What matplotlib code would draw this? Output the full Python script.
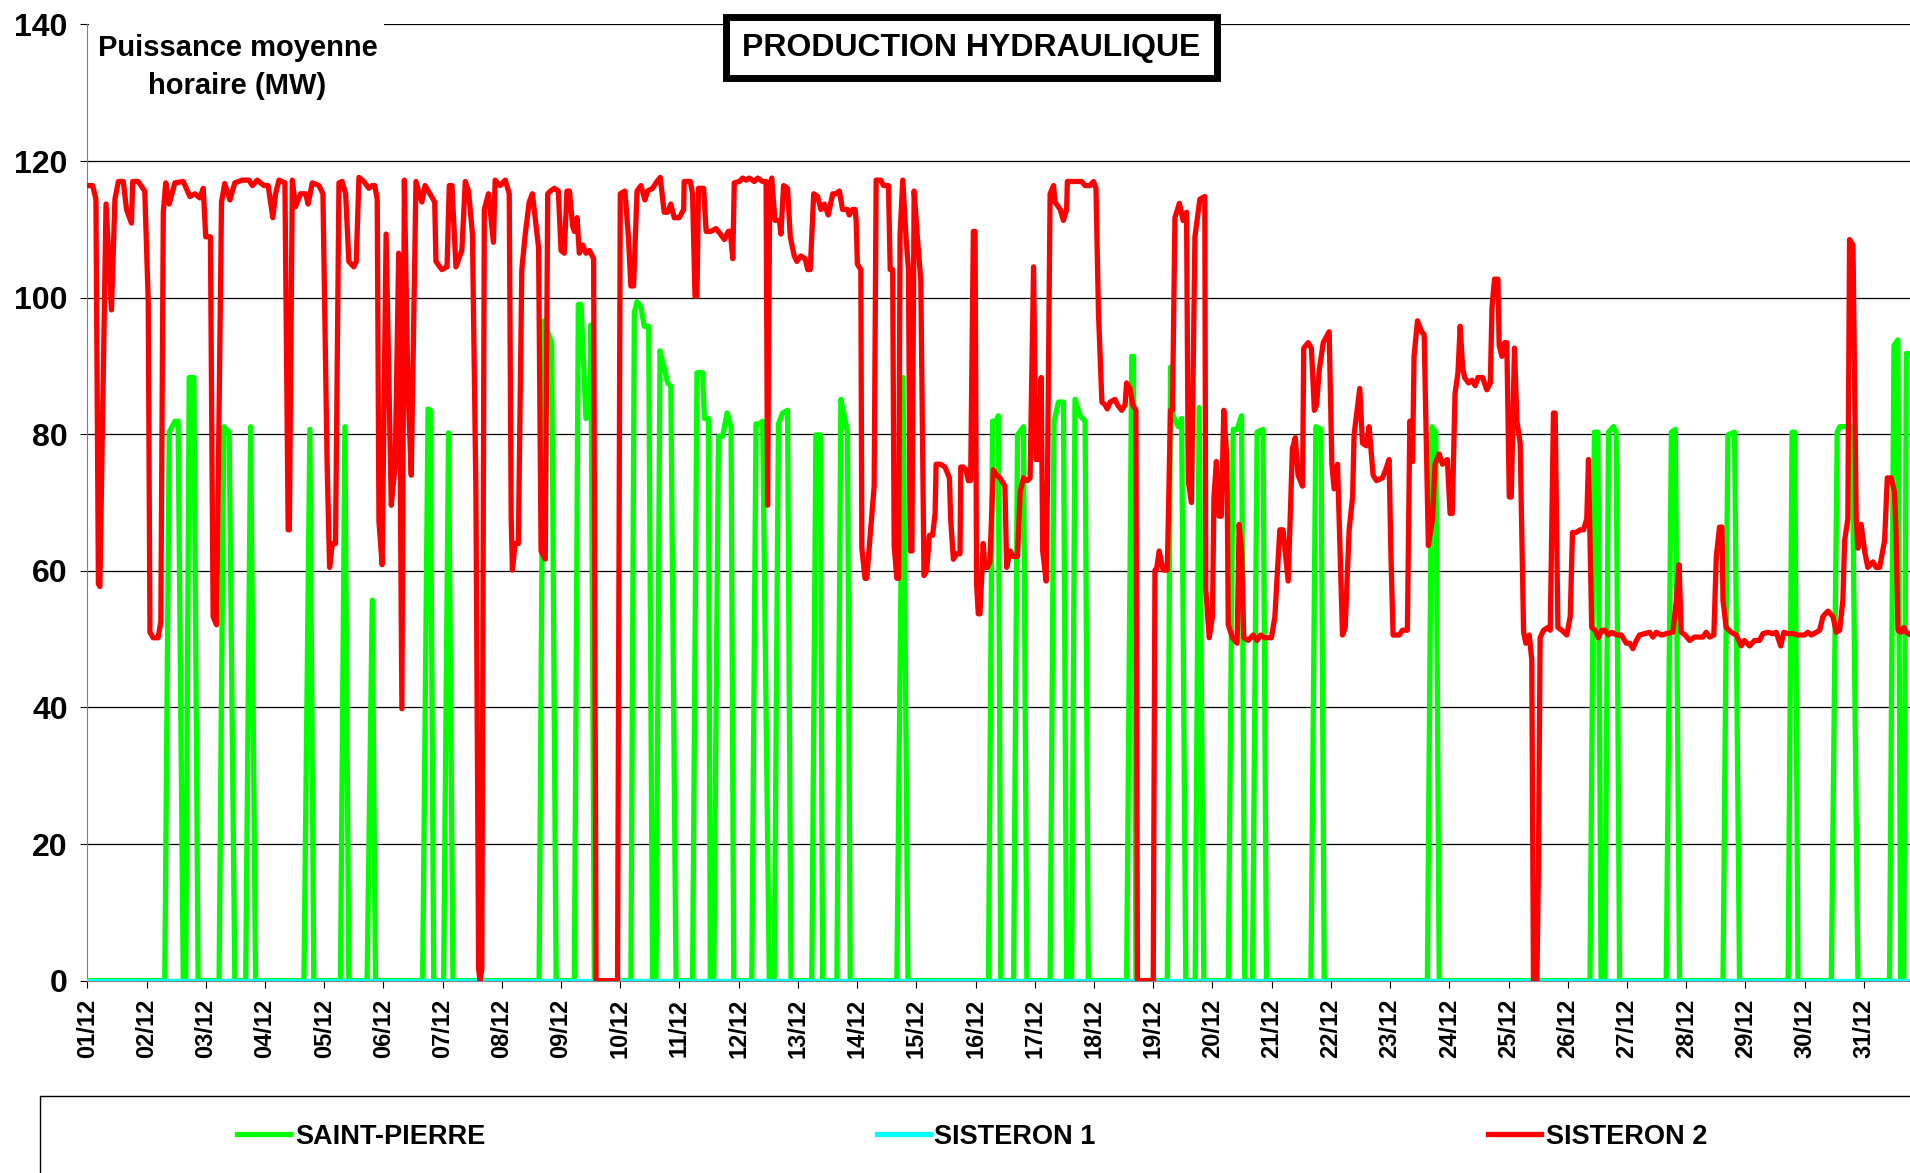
import numpy as np
import matplotlib.pyplot as plt
from matplotlib.lines import Line2D
from matplotlib.patches import Rectangle

plt.rcParams['font.family'] = ['Liberation Sans', 'DejaVu Sans']
plt.rcParams['font.weight'] = 'bold'

# tick labels, one per day
day_labels = ['01/12', '02/12', '03/12', '04/12', '05/12', '06/12', '07/12', '08/12',
              '09/12', '10/12', '11/12', '12/12', '13/12', '14/12', '15/12', '16/12',
              '17/12', '18/12', '19/12', '20/12', '21/12', '22/12', '23/12', '24/12',
              '25/12', '26/12', '27/12', '28/12', '29/12', '30/12', '31/12']

# SISTERON 2 (hours from 01/12 00h, MW)
red_h = [0, 2.2, 3.5, 4.5, 5.1, 7.6, 9.8, 11.2, 12.6, 14.6, 15.9, 17.9, 18.4, 20.6, 23.3, 24.7,
         25.4, 26.7, 28.7, 29.8, 30.8, 31.8, 33.2, 35.5, 38.9, 41.6, 43.6, 45.6, 47, 48, 49.9,
         51, 52.4, 54.4, 55.7, 57.8, 59.8, 62.8, 65.5, 66.9, 68.9, 71.6, 73.3, 75.2, 76.3,
         77.7, 80.1, 81.4, 81.9, 83.1, 84.4, 86.4, 88.5, 89.5, 91.2, 93.9, 95.5, 97.2, 98.2,
         99.3, 100.6, 102, 103.3, 104.7, 106, 108, 109, 110.1, 112.1, 114.1, 115.5, 116.5,
         117.5, 118.2, 119.5, 121.1, 123.2, 124.8, 126.2, 127.5, 128.5, 129.9, 131.3, 133.2,
         135.6, 136.9, 140.8, 141.3, 143.7, 145.8, 146.7, 147.8, 149.4, 151.8, 153.2, 154.5,
         156.1, 157.5, 158.6, 159.2, 159.9, 160.9, 162.6, 164.6, 165.3, 167.3, 169.4, 171,
         171.8, 172.3, 173.4, 174.7, 176.1, 177.5, 179.1, 180.4, 182.9, 183.9, 185.6, 186.6,
         187.7, 189.3, 190.9, 192, 193.3, 194.4, 195.4, 196.7, 197.4, 198.5, 199.4, 200.8,
         202.1, 203.5, 205.2, 206.2, 214.9, 216, 217.9, 219.3, 220.3, 221.4, 222.8, 224.4,
         226, 227.1, 229.1, 230.5, 232.2, 233.8, 235.2, 236.5, 237.9, 239.9, 241.7, 241.9,
         244.4, 245.3, 246.3, 247.1, 247.7, 249.8, 250.8, 252.8, 254.8, 256.6, 258.2, 259.8,
         260.6, 261.6, 262.2, 264.3, 265.6, 267, 268.3, 270.3, 271.7, 273.7, 275.1, 275.7,
         276.6, 277.4, 278.7, 280.5, 281.1, 282.2, 283.8, 284.9, 286.5, 287.6, 289.2, 290.9,
         292, 293, 294.4, 296, 297.3, 298.7, 300.3, 302.1, 303.4, 304.8, 306.1, 308.1, 308.8,
         310.2, 311.2, 311.6, 312.1, 313.5, 313.9, 315.2, 315.9, 317.5, 318.9, 319.7, 321.6,
         322.7, 324.7, 325.4, 326.4, 327, 328.1, 328.8, 329.4, 330.5, 331.8, 332.8, 333.5,
         334.2, 335.1, 336.4, 337.8, 339.1, 340.2, 341.3, 342.6, 343.6, 344, 345.9, 347.6,
         349.4, 349.9, 351, 352.4, 353.7, 354, 355, 356.1, 357.1, 358, 359.1, 359.8, 360.4,
         361.1, 361.8, 363.1, 363.8, 364.8, 365.8, 367.2, 368.5, 369.9, 371.9, 372.6, 374,
         375.4, 377, 378.1, 379.4, 381, 382.1, 383.5, 384.5, 385.5, 386.6, 387.2, 388.6,
         389.1, 390.2, 391.6, 392.2, 394.3, 395.6, 396.9, 397.2, 403, 404.4, 406.4, 407.8,
         408.8, 409.8, 411.2, 412.5, 413.4, 414.5, 416.5, 417.5, 419.2, 420.6, 421.2, 422.6,
         423.7, 425, 425.6, 432, 432.7, 433.3, 434.4, 436, 437.7, 439, 439.8, 440.8, 442.6,
         444.1, 445.5, 446.2, 447.5, 448.9, 450.9, 452.9, 453.3, 454.7, 456, 456.6, 457.6,
         458.7, 459.6, 460.6, 461.9, 462.4, 464.1, 466, 466.8, 467.8, 468.7, 470.5, 472.5,
         474.1, 475.5, 477.2, 479.9, 481.3, 483.3, 484.6, 486.7, 488.4, 489.6, 490.7, 492.5,
         493, 494.8, 496.1, 497.3, 498.2, 499.3, 500.9, 503.3, 504.4, 505.3, 506.7, 508.7,
         509.8, 511.4, 512.8, 513.4, 515.7, 516.8, 518.4, 519.5, 521.1, 522.5, 524.9, 526.2,
         527.6, 528.3, 529.2, 531.7, 533, 535, 536, 537.1, 537.7, 539.1, 540.8, 541.8, 543.5,
         545.2, 546.2, 547.9, 549.2, 551.2, 552.3, 553.2, 554.3, 555.5, 556.4, 557.4, 558.2,
         559.8, 561.2, 562.5, 563.6, 565.5, 567.2, 568.6, 569.3, 570.3, 571.7, 572.2, 573.3,
         574.4, 575.3, 576.3, 577.1, 578.4, 579.4, 580.7, 582.1, 583, 584.4, 585.4, 586.1,
         587.5, 588.1, 588.8, 590.2, 591.9, 592.9, 594.2, 594.9, 596, 597.6, 599.6, 601,
         601.9, 603.3, 605, 606.4, 607.7, 608.4, 609.7, 611.1, 612.4, 613.8, 615.1, 616.5,
         617.8, 619.9, 621.7, 623.7, 625.1, 626.4, 627.8, 629.1, 633.2, 634.5, 635.9, 637.9,
         639.9, 642.6, 644, 645.1, 646, 647.6, 649.4, 651.4, 654.8, 656.1, 657.5, 659.2,
         660.2, 661.5, 662.5, 662.9, 664.2, 666.2, 668.3, 670.3, 671.6, 673.7, 675.7, 677.7,
         679.1, 681.1, 683.1, 684.5, 686.3, 687.6, 689.3, 691.3, 693.3, 696, 697.3, 698.7,
         700.7, 702.1, 703.4, 705.4, 707.5, 708.8, 710.2, 711.5, 712.2, 713.5, 714.2, 715.6,
         716.9, 717.6, 718.9, 720.3, 721.6, 723.7, 725, 726.4, 728.4, 729.5, 731.1, 732.4,
         733.1, 733.8, 735.1, 736.2, 737.2, 739]
red_mw = [116.4, 116.4, 114.4, 58.1, 57.7, 113.7, 98.2, 114.4, 117, 117, 112.9, 110.9, 117, 117,
          115.6, 99.4, 51, 50.2, 50.2, 52.5, 112.5, 116.8, 113.7, 116.8, 117, 114.8, 115.2,
          114.6, 116, 108.9, 108.9, 53.3, 52.1, 114, 116.7, 114.3, 116.8, 117.2, 117.2, 116.4,
          117.2, 116.4, 116.4, 111.7, 115.2, 117.2, 116.8, 66, 66, 117.2, 113.3, 115.2, 115.2,
          113.7, 116.8, 116.4, 115.2, 75.6, 60.5, 64, 64, 116.8, 117, 115.2, 105.3, 104.5,
          105.3, 117.6, 117, 116, 116.4, 116.4, 114.4, 67.3, 60.9, 109.3, 69.6, 75.6, 106.5,
          39.8, 117.2, 87.5, 74, 117, 114, 116.4, 114, 105.3, 104.1, 104.5, 116.4, 116.4,
          104.5, 106.9, 117, 115.6, 109.3, 71.6, 1.7, 0, 1.7, 112.9, 115.2, 108.1, 117.2,
          116.4, 117.2, 115.2, 67.6, 60.1, 64, 64, 104.1, 109.3, 114, 115.2, 107.3, 62.9, 61.7,
          115.2, 115.6, 116, 115.6, 106.9, 106.5, 115.6, 115.6, 110.5, 109.7, 111.7, 106.5,
          107.7, 106.5, 106.9, 105.7, 0, 0, 115.2, 115.6, 108.9, 101.7, 101.7, 115.6, 116.4,
          114.3, 115.6, 116, 116.8, 117.6, 112.5, 112.5, 113.7, 111.7, 111.7, 112.9, 117, 117,
          115.2, 100.2, 100.2, 116, 116, 109.7, 109.7, 110.1, 109.3, 108.5, 109.7, 109.7,
          105.7, 116.8, 117, 117.5, 117.2, 117.5, 117, 117.5, 117, 117, 69.6, 116.4, 117.5,
          111.3, 111.3, 109.3, 116.4, 116, 108.9, 106.1, 105.3, 106.1, 105.7, 104.1, 104.1,
          115.2, 114.8, 112.9, 113.7, 112.1, 115.2, 115.2, 115.6, 112.9, 112.9, 112.1, 112.9,
          112.9, 111.3, 104.9, 104.1, 63.3, 58.9, 58.9, 66, 72.4, 117.2, 117.2, 116.4, 116.4,
          104.1, 104.1, 63.7, 58.9, 58.9, 109.3, 117.2, 108.9, 104.1, 62.9, 62.9, 115.6, 108.9,
          102.5, 59.3, 60.1, 65.2, 65.2, 68.4, 75.6, 75.6, 75.2, 73.6, 67.6, 61.7, 62.5, 62.5,
          75.2, 75.2, 74.8, 73.2, 73.2, 109.7, 109.7, 58.1, 53.7, 53.7, 64, 60.5, 60.5, 61.3,
          74.8, 74, 73.6, 72.4, 60.5, 62.9, 62.1, 62.1, 71.6, 73.6, 73.2, 73.6, 104.5, 76.3,
          76.3, 88.3, 62.9, 58.5, 71.6, 115.2, 116.4, 114, 112.9, 111.3, 112.9, 117, 117,
          116.4, 116.4, 117, 116, 97.8, 84.7, 84.3, 83.7, 84.7, 85.1, 84.3, 83.5, 84.3, 87.5,
          86.7, 84.3, 83.5, 0, 0, 60.1, 60.1, 62.9, 60.1, 60.1, 83.5, 83.5, 111.7, 113.8,
          111.3, 112.5, 73.2, 70, 108.9, 114.4, 114.8, 57.3, 50.2, 53.3, 70.8, 76, 68, 68,
          83.5, 76.3, 52.1, 50.2, 49.4, 66.8, 62.9, 50.2, 49.8, 50.6, 49.8, 50.6, 50.2, 50.2,
          53.3, 66, 66, 58.5, 77.9, 79.5, 74, 72.4, 92.6, 93.4, 92.6, 83.5, 84.3, 89.4, 93.4,
          95, 75.6, 72, 75.6, 50.6, 51.7, 66, 70.8, 79.9, 86.7, 78.7, 78.3, 81.1, 74, 73.2,
          73.6, 74.8, 76.3, 62.9, 50.6, 50.6, 51.3, 51.3, 81.9, 76, 91.4, 96.6, 95, 94.6, 63.7,
          67.6, 75.6, 77.1, 75.6, 76.3, 68.4, 68.4, 85.9, 89, 95.8, 89.8, 88.3, 87.5, 87.9,
          87.1, 88.3, 88.3, 86.5, 87.5, 98.6, 102.7, 102.7, 93, 91.4, 93.4, 93.4, 70.8, 70.8,
          92.6, 81.9, 78.7, 51, 49.4, 50.6, 47, 0, 0, 16, 50.2, 51.3, 51.7, 51.3, 83.1, 83.1,
          51.7, 51.3, 50.6, 53.3, 65.6, 65.6, 66, 66, 67.6, 76.3, 51.7, 51.3, 50.2, 51.3, 51.3,
          50.6, 51, 50.6, 50.6, 49.4, 49.4, 48.6, 49.8, 50.6, 51, 50.3, 51, 50.6, 50.8, 51,
          55.7, 60.9, 51, 50.6, 49.8, 50.3, 50.3, 51, 50.3, 50.6, 62.1, 66.4, 66.4, 55.7, 51.7,
          51, 50.6, 49, 49.8, 49, 49.8, 49.8, 50.8, 51, 50.8, 51, 49, 51, 50.8, 50.8, 50.6,
          50.6, 51, 50.6, 51, 51.3, 53.3, 54.1, 53.3, 51, 51.3, 55.7, 64.4, 67.6, 108.5, 107.7,
          67.6, 63.3, 66.8, 62.9, 60.5, 61.3, 60.5, 60.5, 64.4, 73.6, 73.6, 71.6, 65.2, 51.3,
          51, 51.7, 51, 50.6]

# SAINT-PIERRE
green_h = [0, 31.4, 33.2, 35.5, 36.8, 38.9, 39.9, 41.3, 43.2, 44.9, 53.4, 55.3, 57.5, 59.8,
           64.2, 66.2, 68.2, 87.8, 90.2, 91.8, 102.6, 104.4, 106, 113.4, 115.5, 116.8, 135.9,
           138.1, 139, 140.4, 144.4, 146.4, 148.2, 183.1, 184.9, 188.2, 190, 197.4, 199, 200.1,
           202.1, 203.5, 204.1, 205.5, 220.3, 221.7, 222.8, 224.4, 225.7, 227.5, 229.1, 230.5,
           232.1, 233.8, 235.2, 236.5, 238.6, 245.3, 247.1, 249.4, 250.1, 251.7, 252.5, 253.9,
           255.8, 257.5, 259.3, 260.9, 262, 269.3, 271, 272.4, 273.7, 276.4, 278.4, 280.1,
           281.8, 283.8, 285.2, 293.6, 295.3, 297.1, 298, 303.8, 305.4, 306.8, 308.1, 309.2,
           328.1, 330.6, 332.6, 365.2, 366.9, 368.3, 369.2, 370.2, 375.4, 377, 379.4, 380.8,
           390.2, 391.8, 393.6, 395.6, 396.9, 398.9, 400.3, 402.4, 404.4, 405.7, 421.2, 423.3,
           424, 425, 437.7, 439, 440.1, 442.1, 443.5, 445.2, 449, 450.6, 452.5, 462.4, 464.4,
           466, 467.8, 469.1, 472.2, 474.1, 476.5, 477.9, 495.9, 497.9, 500, 501.3, 543.1,
           544.9, 546.5, 547.9, 609, 610.8, 612.2, 613.5, 615.1, 616.5, 618.5, 619.6, 621,
           639.9, 642, 643.6, 645.3, 662.9, 664.9, 667.6, 669.6, 689.3, 690.9, 692, 693.3,
           706.8, 709.2, 710.2, 715.2, 717.6, 730.4, 732.2, 733.8, 734.9, 736.2, 737.2, 740]
green_mw = [0, 0, 80.3, 81.9, 81.9, 0, 0, 88.3, 88.3, 0, 0, 81.1, 80.3, 0, 0, 81.1, 0, 0, 80.7,
            0, 0, 81.1, 0, 0, 55.7, 0, 0, 83.7, 83.5, 0, 0, 80.2, 0, 0, 96.6, 93.4, 0, 0, 99,
            99, 82.3, 82.7, 96, 0, 0, 97.8, 99.4, 98.6, 95.8, 95.8, 0, 0, 92.2, 89.8, 87.5, 87,
            0, 0, 89, 89, 82.3, 82.3, 0, 0, 79.7, 79.7, 83.1, 81.1, 0, 0, 81.5, 81.5, 81.9, 0,
            0, 81.5, 83.1, 83.5, 0, 0, 79.9, 79.9, 0, 0, 85.1, 82.7, 80.3, 0, 0, 88.3, 0, 0,
            81.9, 81.9, 82.7, 0, 0, 79.9, 81.1, 0, 0, 81.9, 84.7, 84.7, 0, 0, 85.1, 82.7, 81.9,
            0, 0, 91.4, 91.4, 0, 0, 89.8, 82.7, 81.1, 82.3, 0, 0, 83.9, 0, 0, 80.7, 80.7, 82.7,
            0, 0, 80.3, 80.7, 0, 0, 81.1, 80.7, 0, 0, 81.1, 80.3, 0, 0, 80.3, 80.3, 0, 0, 80.3,
            81.1, 80.3, 0, 0, 80.3, 80.7, 0, 0, 79.9, 80.3, 0, 0, 80.3, 80.3, 0, 0, 80.3, 81.1,
            81.1, 0, 0, 93, 93.8, 0, 0, 91.8, 91.8]

# SISTERON 1 stays at zero all month
cyan_h = [0, 744]
cyan_mw = [0, 0]

fig = plt.figure(figsize=(19.1, 11.73), dpi=100)
ax = fig.add_axes([0.0457, 0.164, 0.9543, 0.8152])

ax.plot(np.array(green_h) / 24, green_mw, color='#00FF00', lw=3.8, zorder=3)
ax.plot(np.array(cyan_h) / 24, cyan_mw, color='#00FFFF', lw=3.8, zorder=4)
ax.plot(np.array(red_h) / 24, red_mw, color='#FF0000', lw=3.8, zorder=5)

ax.set_xlim(0, 738.7 / 24)
ax.set_ylim(0, 140)
ax.set_yticks(np.arange(0, 141, 20))
ax.set_xticks(np.arange(len(day_labels)))
ax.set_xticklabels(day_labels, rotation=90, fontsize=17, fontweight='bold')
ax.tick_params(axis='y', labelsize=23, length=5, pad=9)
ax.tick_params(axis='x', length=5, pad=8)
for lab in ax.get_yticklabels():
    lab.set_fontweight('bold')

ax.set_axisbelow(True)
ax.grid(axis='y', color='black', lw=0.9)
for s in ['top', 'right']:
    ax.spines[s].set_visible(False)
ax.spines['left'].set_color('#808080')
ax.spines['bottom'].set_color('#808080')

# white panel behind the unit label
ax.add_patch(Rectangle((0.001, 0.9), 0.1616, 0.105, transform=ax.transAxes,
                       facecolor='white', edgecolor='none', zorder=1, clip_on=False))
ax.text(0.0824, 0.9555, 'Puissance moyenne\nhoraire (MW)', transform=ax.transAxes,
        ha='center', va='center', fontsize=21, fontweight='bold', linespacing=1.42, zorder=6)

fig.text(0.5086, 0.9595, 'PRODUCTION HYDRAULIQUE', ha='center', va='center',
         fontsize=23, fontweight='bold',
         bbox=dict(boxstyle='square,pad=0.5', facecolor='white', edgecolor='black', lw=5))

# legend frame, cut by the figure edge as in the original
fig.add_artist(Rectangle((0.0209, -0.05), 1.2, 0.1156, transform=fig.transFigure,
                         facecolor='white', edgecolor='black', lw=1))
entries = [('SAINT-PIERRE', '#00FF00', 0.1243),
           ('SISTERON 1', '#00FFFF', 0.459),
           ('SISTERON 2', '#FF0000', 0.7793)]
for name, col, xpos in entries:
    h = Line2D([], [], color=col, lw=3.8)
    fig.legend(handles=[h], labels=[name], loc='center left', bbox_to_anchor=(xpos, 0.031),
               frameon=False, handlelength=1.95, handletextpad=0.18, borderaxespad=0,
               borderpad=0, prop={'size': 19.5, 'weight': 'bold'})

fig.savefig('out.png', dpi=100)
